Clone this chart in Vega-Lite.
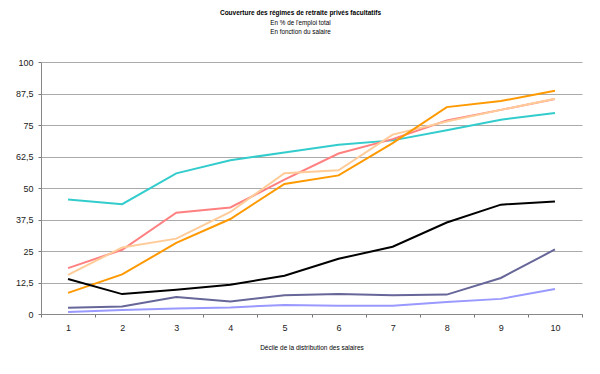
{
  "$schema": "https://vega.github.io/schema/vega-lite/v6.json",
  "width": 541,
  "height": 252,
  "autosize": {"type": "none"},
  "padding": {"left": 41, "top": 62, "right": 18, "bottom": 60},
  "background": "white",
  "title": {
    "text": "Couverture des régimes de retraite privés facultatifs",
    "subtitle": ["En % de l'emploi total", "En fonction du salaire"],
    "anchor": "middle",
    "dx": -11,
    "offset": 23,
    "font": "Liberation Sans",
    "fontSize": 6.5,
    "fontWeight": "bold",
    "color": "#000",
    "subtitleFont": "Liberation Sans",
    "subtitleFontSize": 6.3,
    "subtitleColor": "#000",
    "subtitlePadding": 3,
    "subtitleLineHeight": 9
  },
  "config": {
    "view": {"stroke": null},
    "font": "Liberation Sans"
  },
  "data": {
    "values": [
      {"d": 1, "s": "S1", "v": 45.4}, {"d": 2, "s": "S1", "v": 43.6}, {"d": 3, "s": "S1", "v": 55.8}, {"d": 4, "s": "S1", "v": 61.0}, {"d": 5, "s": "S1", "v": 64.1},
      {"d": 6, "s": "S1", "v": 67.2}, {"d": 7, "s": "S1", "v": 68.9}, {"d": 8, "s": "S1", "v": 72.9}, {"d": 9, "s": "S1", "v": 77.1}, {"d": 10, "s": "S1", "v": 79.8},
      {"d": 1, "s": "S2", "v": 18.2}, {"d": 2, "s": "S2", "v": 25.5}, {"d": 3, "s": "S2", "v": 40.2}, {"d": 4, "s": "S2", "v": 42.3}, {"d": 5, "s": "S2", "v": 53.3},
      {"d": 6, "s": "S2", "v": 63.7}, {"d": 7, "s": "S2", "v": 69.4}, {"d": 8, "s": "S2", "v": 76.8}, {"d": 9, "s": "S2", "v": 81.0}, {"d": 10, "s": "S2", "v": 85.3},
      {"d": 1, "s": "S3", "v": 15.5}, {"d": 2, "s": "S3", "v": 26.4}, {"d": 3, "s": "S3", "v": 29.9}, {"d": 4, "s": "S3", "v": 40.5}, {"d": 5, "s": "S3", "v": 55.9},
      {"d": 6, "s": "S3", "v": 57.0}, {"d": 7, "s": "S3", "v": 71.2}, {"d": 8, "s": "S3", "v": 76.4}, {"d": 9, "s": "S3", "v": 81.0}, {"d": 10, "s": "S3", "v": 85.4},
      {"d": 1, "s": "S4", "v": 8.4}, {"d": 2, "s": "S4", "v": 15.7}, {"d": 3, "s": "S4", "v": 28.2}, {"d": 4, "s": "S4", "v": 37.7}, {"d": 5, "s": "S4", "v": 51.6},
      {"d": 6, "s": "S4", "v": 55.0}, {"d": 7, "s": "S4", "v": 67.8}, {"d": 8, "s": "S4", "v": 82.1}, {"d": 9, "s": "S4", "v": 84.5}, {"d": 10, "s": "S4", "v": 88.6},
      {"d": 1, "s": "S5", "v": 13.9}, {"d": 2, "s": "S5", "v": 7.9}, {"d": 3, "s": "S5", "v": 9.6}, {"d": 4, "s": "S5", "v": 11.6}, {"d": 5, "s": "S5", "v": 15.2},
      {"d": 6, "s": "S5", "v": 21.9}, {"d": 7, "s": "S5", "v": 26.7}, {"d": 8, "s": "S5", "v": 36.3}, {"d": 9, "s": "S5", "v": 43.4}, {"d": 10, "s": "S5", "v": 44.6},
      {"d": 1, "s": "S6", "v": 2.5}, {"d": 2, "s": "S6", "v": 3.0}, {"d": 3, "s": "S6", "v": 6.7}, {"d": 4, "s": "S6", "v": 5.0}, {"d": 5, "s": "S6", "v": 7.4},
      {"d": 6, "s": "S6", "v": 7.9}, {"d": 7, "s": "S6", "v": 7.4}, {"d": 8, "s": "S6", "v": 7.7}, {"d": 9, "s": "S6", "v": 14.3}, {"d": 10, "s": "S6", "v": 25.6},
      {"d": 1, "s": "S7", "v": 0.8}, {"d": 2, "s": "S7", "v": 1.6}, {"d": 3, "s": "S7", "v": 2.2}, {"d": 4, "s": "S7", "v": 2.6}, {"d": 5, "s": "S7", "v": 3.6},
      {"d": 6, "s": "S7", "v": 3.3}, {"d": 7, "s": "S7", "v": 3.3}, {"d": 8, "s": "S7", "v": 4.8}, {"d": 9, "s": "S7", "v": 6.0}, {"d": 10, "s": "S7", "v": 9.9}
    ]
  },
  "mark": {"type": "line", "strokeWidth": 2},
  "encoding": {
    "x": {
      "field": "d",
      "type": "ordinal",
      "scale": {"type": "band", "paddingInner": 0, "paddingOuter": 0},
      "axis": {
        "title": "Décile de la distribution des salaires",
        "titleFont": "Liberation Sans",
        "titleFontSize": 6.5,
        "titleFontWeight": "normal",
        "titleColor": "#000",
        "titlePadding": 12,
        "labelAngle": 0,
        "labelFontSize": 9,
        "labelColor": "#222",
        "labelPadding": 6,
        "tickBand": "extent",
        "ticks": true,
        "tickSize": 3,
        "tickColor": "#777",
        "domainColor": "#888",
        "grid": false
      }
    },
    "y": {
      "field": "v",
      "type": "quantitative",
      "scale": {"domain": [0, 100], "nice": false},
      "axis": {
        "title": null,
        "values": [0, 12.5, 25, 37.5, 50, 62.5, 75, 87.5, 100],
        "labelExpr": "replace(toString(datum.value), '.', ',')",
        "labelFontSize": 9,
        "labelColor": "#222",
        "labelPadding": 5,
        "tickSize": 3,
        "tickColor": "#777",
        "domainColor": "#888",
        "gridColor": "#aaa",
        "gridOpacity": 1
      }
    },
    "color": {
      "field": "s",
      "type": "nominal",
      "scale": {
        "domain": ["S1", "S2", "S3", "S4", "S5", "S6", "S7"],
        "range": ["#33CCCC", "#FF8080", "#FFCC99", "#FF9900", "#000000", "#666699", "#9999FF"]
      },
      "legend": null
    }
  }
}
